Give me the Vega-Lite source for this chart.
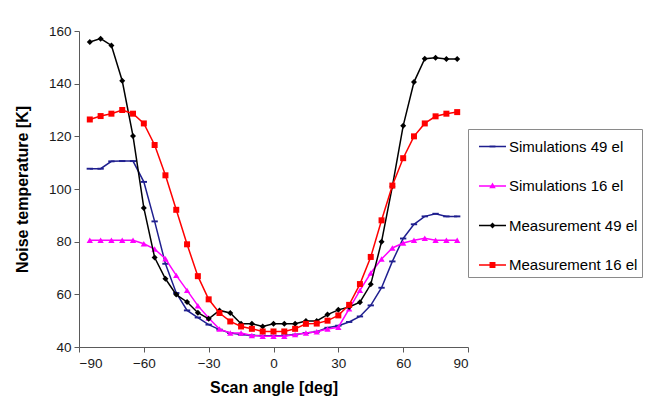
{
  "$schema": "https://vega.github.io/schema/vega-lite/v6.json",
  "width": 389,
  "height": 316,
  "autosize": "none",
  "padding": {"left": 79, "top": 31, "right": 181, "bottom": 72},
  "background": "white",
  "config": {
    "font": "Liberation Sans",
    "view": {"stroke": null},
    "axis": {
      "grid": false,
      "domainColor": "#5a5a5a",
      "tickColor": "#5a5a5a",
      "tickSize": 5,
      "labelFont": "Liberation Sans",
      "labelFontSize": 13.5,
      "labelColor": "#1a1a1a",
      "titleFont": "Liberation Sans",
      "titleFontSize": 16,
      "titleFontWeight": "bold",
      "titleColor": "#000000"
    },
    "legend": {
      "labelFont": "Liberation Sans",
      "labelFontSize": 15,
      "labelColor": "#000000",
      "symbolOpacity": 1,
      "symbolStrokeWidth": 0
    }
  },
  "data": {
    "values": [
      {"angle": -85, "Simulations 49 el": 107.7, "Simulations 16 el": 80.5, "Measurement 49 el": 155.8, "Measurement 16 el": 126.4},
      {"angle": -80, "Simulations 49 el": 107.7, "Simulations 16 el": 80.5, "Measurement 49 el": 157.1, "Measurement 16 el": 127.7},
      {"angle": -75, "Simulations 49 el": 110.5, "Simulations 16 el": 80.5, "Measurement 49 el": 154.5, "Measurement 16 el": 128.6},
      {"angle": -70, "Simulations 49 el": 110.6, "Simulations 16 el": 80.5, "Measurement 49 el": 141.1, "Measurement 16 el": 130.0},
      {"angle": -65, "Simulations 49 el": 110.6, "Simulations 16 el": 80.5, "Measurement 49 el": 120.1, "Measurement 16 el": 128.6},
      {"angle": -60, "Simulations 49 el": 102.7, "Simulations 16 el": 79.2, "Measurement 49 el": 92.8, "Measurement 16 el": 124.9},
      {"angle": -55, "Simulations 49 el": 87.7, "Simulations 16 el": 77.2, "Measurement 49 el": 74.0, "Measurement 16 el": 116.7},
      {"angle": -50, "Simulations 49 el": 71.6, "Simulations 16 el": 73.5, "Measurement 49 el": 65.9, "Measurement 16 el": 105.2},
      {"angle": -45, "Simulations 49 el": 60.5, "Simulations 16 el": 67.2, "Measurement 49 el": 59.9, "Measurement 16 el": 92.1},
      {"angle": -40, "Simulations 49 el": 53.9, "Simulations 16 el": 61.5, "Measurement 49 el": 57.1, "Measurement 16 el": 79.0},
      {"angle": -35, "Simulations 49 el": 51.2, "Simulations 16 el": 55.7, "Measurement 49 el": 53.0, "Measurement 16 el": 66.9},
      {"angle": -30, "Simulations 49 el": 48.5, "Simulations 16 el": 51.0, "Measurement 49 el": 50.7, "Measurement 16 el": 58.1},
      {"angle": -25, "Simulations 49 el": 46.6, "Simulations 16 el": 46.8, "Measurement 49 el": 53.9, "Measurement 16 el": 52.9},
      {"angle": -20, "Simulations 49 el": 45.3, "Simulations 16 el": 45.3, "Measurement 49 el": 52.9, "Measurement 16 el": 49.7},
      {"angle": -15, "Simulations 49 el": 44.7, "Simulations 16 el": 45.3, "Measurement 49 el": 48.8, "Measurement 16 el": 47.8},
      {"angle": -10, "Simulations 49 el": 44.4, "Simulations 16 el": 44.4, "Measurement 49 el": 48.8, "Measurement 16 el": 46.9},
      {"angle": -5, "Simulations 49 el": 44.3, "Simulations 16 el": 44.1, "Measurement 49 el": 47.8, "Measurement 16 el": 45.9},
      {"angle": 0, "Simulations 49 el": 44.3, "Simulations 16 el": 44.1, "Measurement 49 el": 48.8, "Measurement 16 el": 45.9},
      {"angle": 5, "Simulations 49 el": 44.4, "Simulations 16 el": 44.1, "Measurement 49 el": 48.8, "Measurement 16 el": 45.9},
      {"angle": 10, "Simulations 49 el": 44.7, "Simulations 16 el": 44.7, "Measurement 49 el": 48.8, "Measurement 16 el": 46.9},
      {"angle": 15, "Simulations 49 el": 45.3, "Simulations 16 el": 45.3, "Measurement 49 el": 49.9, "Measurement 16 el": 48.8},
      {"angle": 20, "Simulations 49 el": 45.8, "Simulations 16 el": 45.8, "Measurement 49 el": 49.9, "Measurement 16 el": 48.9},
      {"angle": 25, "Simulations 49 el": 47.3, "Simulations 16 el": 46.8, "Measurement 49 el": 52.3, "Measurement 16 el": 50.0},
      {"angle": 30, "Simulations 49 el": 48.1, "Simulations 16 el": 47.5, "Measurement 49 el": 54.1, "Measurement 16 el": 52.0},
      {"angle": 35, "Simulations 49 el": 49.5, "Simulations 16 el": 54.5, "Measurement 49 el": 55.2, "Measurement 16 el": 56.0},
      {"angle": 40, "Simulations 49 el": 51.6, "Simulations 16 el": 61.5, "Measurement 49 el": 57.0, "Measurement 16 el": 63.9},
      {"angle": 45, "Simulations 49 el": 55.8, "Simulations 16 el": 68.1, "Measurement 49 el": 63.8, "Measurement 16 el": 74.2},
      {"angle": 50, "Simulations 49 el": 62.5, "Simulations 16 el": 73.4, "Measurement 49 el": 80.0, "Measurement 16 el": 88.1},
      {"angle": 55, "Simulations 49 el": 72.5, "Simulations 16 el": 77.6, "Measurement 49 el": 101.0, "Measurement 16 el": 101.3},
      {"angle": 60, "Simulations 49 el": 81.2, "Simulations 16 el": 79.5, "Measurement 49 el": 124.0, "Measurement 16 el": 111.7},
      {"angle": 65, "Simulations 49 el": 86.6, "Simulations 16 el": 80.5, "Measurement 49 el": 140.6, "Measurement 16 el": 120.0},
      {"angle": 70, "Simulations 49 el": 89.6, "Simulations 16 el": 81.3, "Measurement 49 el": 149.5, "Measurement 16 el": 124.9},
      {"angle": 75, "Simulations 49 el": 90.6, "Simulations 16 el": 80.5, "Measurement 49 el": 149.8, "Measurement 16 el": 127.6},
      {"angle": 80, "Simulations 49 el": 89.6, "Simulations 16 el": 80.5, "Measurement 49 el": 149.4, "Measurement 16 el": 128.6},
      {"angle": 85, "Simulations 49 el": 89.6, "Simulations 16 el": 80.5, "Measurement 49 el": 149.4, "Measurement 16 el": 129.2}
    ]
  },
  "transform": [
    {"fold": ["Simulations 49 el", "Simulations 16 el", "Measurement 49 el", "Measurement 16 el"], "as": ["series", "T"]}
  ],
  "encoding": {
    "x": {
      "field": "angle",
      "type": "quantitative",
      "scale": {"domain": [-90, 90], "nice": false},
      "axis": {"values": [-90, -60, -30, 0, 30, 60, 90], "title": "Scan angle [deg]", "labelPadding": 4, "titlePadding": 10}
    },
    "y": {
      "field": "T",
      "type": "quantitative",
      "scale": {"domain": [40, 160], "nice": false, "zero": false},
      "axis": {"values": [40, 60, 80, 100, 120, 140, 160], "title": "Noise temperature [K]", "labelPadding": 3, "titlePadding": 18}
    }
  },
  "layer": [
    {
      "transform": [{"filter": {"field": "series", "equal": "Simulations 49 el"}}],
      "mark": {"type": "line", "color": "#1f1f8f", "strokeWidth": 1.5, "point": {"filled": true, "color": "#1f1f8f", "shape": "M-1,-0.3H1V0.3H-1Z", "size": 40}}
    },
    {
      "transform": [{"filter": {"field": "series", "equal": "Simulations 16 el"}}],
      "mark": {"type": "line", "color": "#ff00ff", "strokeWidth": 1.5, "point": {"filled": true, "color": "#ff00ff", "shape": "triangle-up", "size": 40}}
    },
    {
      "transform": [{"filter": {"field": "series", "equal": "Measurement 49 el"}}],
      "mark": {"type": "line", "color": "#000000", "strokeWidth": 1.5, "point": {"filled": true, "color": "#000000", "shape": "diamond", "size": 36}}
    },
    {
      "transform": [{"filter": {"field": "series", "equal": "Measurement 16 el"}}],
      "mark": {"type": "line", "color": "#ff0000", "strokeWidth": 1.5, "point": {"filled": true, "color": "#ff0000", "shape": "square", "size": 36}}
    },
    {
      "mark": {"type": "point", "filled": true, "opacity": 0},
      "encoding": {
        "color": {
          "field": "series",
          "type": "nominal",
          "scale": {"domain": ["Simulations 49 el", "Simulations 16 el", "Measurement 49 el", "Measurement 16 el"], "range": ["#1f1f8f", "#ff00ff", "#000000", "#ff0000"]},
          "legend": {"title": null, "orient": "none", "legendX": 389, "legendY": 98, "strokeColor": "#8a8a8a", "fillColor": "#ffffff", "padding": 4, "symbolOffset": 7, "symbolSize": 729, "rowPadding": 17.5, "labelOffset": 3, "symbolOpacity": 1, "symbolStrokeWidth": 0}
        },
        "shape": {
          "field": "series",
          "type": "nominal",
          "scale": {"domain": ["Simulations 49 el", "Simulations 16 el", "Measurement 49 el", "Measurement 16 el"], "range": [
            "M-1,-0.055H1V0.055H-1Z M-0.22,-0.08H0.22V0.08H-0.22Z",
            "M-1,-0.055H1V0.055H-1Z M0,-0.26L0.24,0.16H-0.24Z",
            "M-1,-0.055H1V0.055H-1Z M0,-0.22L0.22,0L0,0.22L-0.22,0Z",
            "M-1,-0.055H1V0.055H-1Z M-0.22,-0.22H0.22V0.22H-0.22Z"
          ]},
          "legend": {"title": null, "orient": "none", "legendX": 389, "legendY": 98, "strokeColor": "#8a8a8a", "fillColor": "#ffffff", "padding": 4, "symbolOffset": 7, "symbolSize": 729, "rowPadding": 17.5, "labelOffset": 3, "symbolOpacity": 1, "symbolStrokeWidth": 0}
        }
      }
    }
  ]
}
